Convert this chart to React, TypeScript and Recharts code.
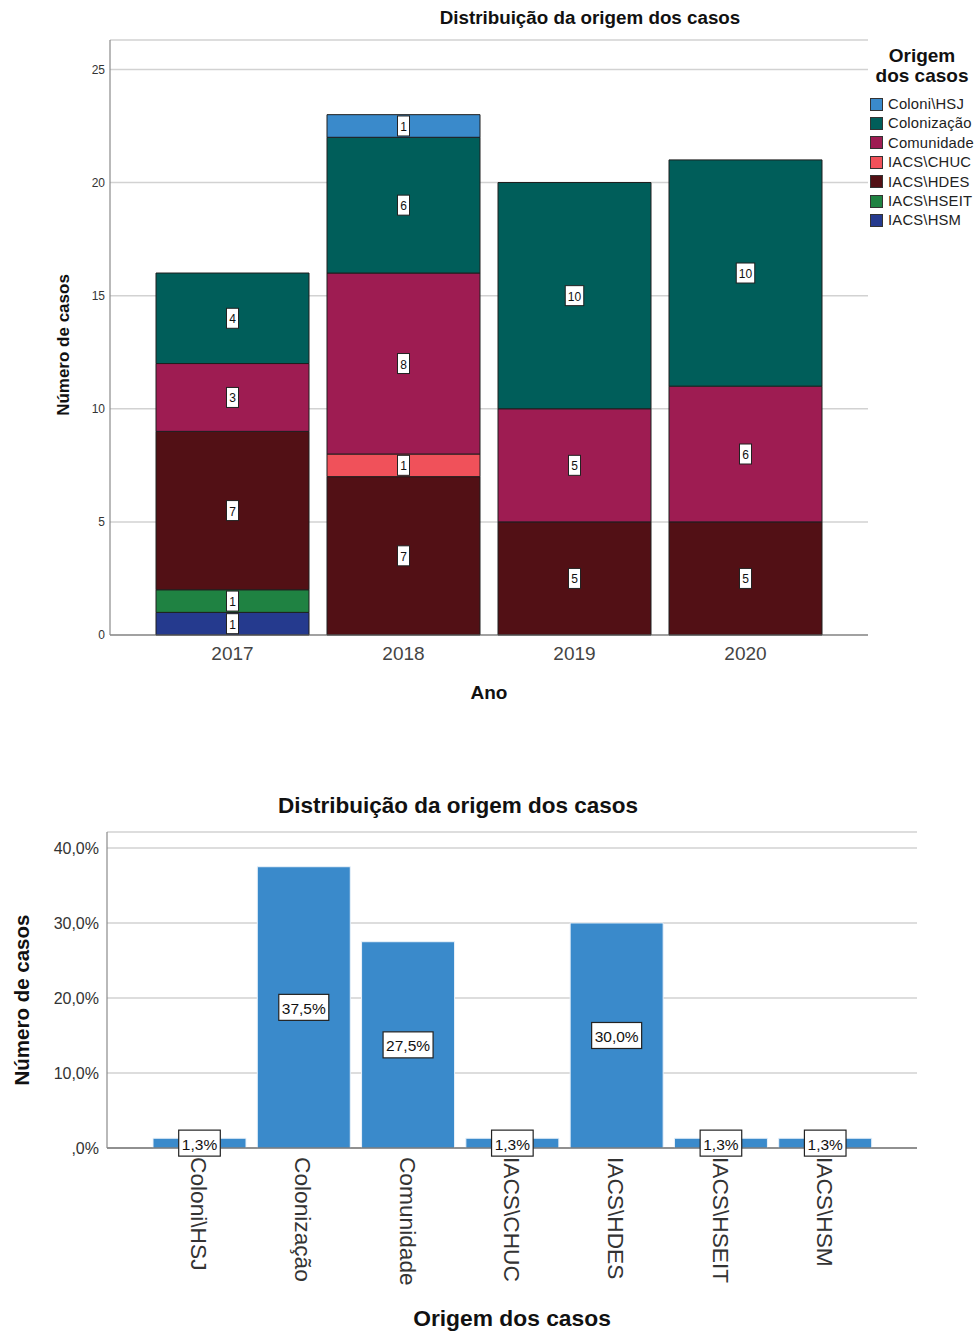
import { Bar, BarChart, CartesianGrid, LabelList, XAxis, YAxis } from 'recharts';

// Cases per year, split by origin
const years = ['2017', '2018', '2019', '2020'];
const coloniHsj = [0, 1, 0, 0];
const colonizacao = [4, 6, 10, 10];
const comunidade = [3, 8, 5, 6];
const iacsChuc = [0, 1, 0, 0];
const iacsHdes = [7, 7, 5, 5];
const iacsHseit = [1, 0, 0, 0];
const iacsHsm = [1, 0, 0, 0];

// Share of all cases per origin (%)
const origins = [
    'Coloni\\HSJ',
    'Colonização',
    'Comunidade',
    'IACS\\CHUC',
    'IACS\\HDES',
    'IACS\\HSEIT',
    'IACS\\HSM',
];
const originShare = [1.3, 37.5, 27.5, 1.3, 30.0, 1.3, 1.3];

const countTicks = [0, 5, 10, 15, 20, 25];
const shareTicks = [0, 10, 20, 30, 40];

const FONT = '"Liberation Sans", Arial, sans-serif';

// bottom-to-top stacking order
const stackSeries = [
    { key: 'hsm', name: 'IACS\\HSM', color: '#253a8e', values: iacsHsm },
    { key: 'hseit', name: 'IACS\\HSEIT', color: '#1f8242', values: iacsHseit },
    { key: 'hdes', name: 'IACS\\HDES', color: '#521015', values: iacsHdes },
    { key: 'chuc', name: 'IACS\\CHUC', color: '#f0515a', values: iacsChuc },
    { key: 'comunidade', name: 'Comunidade', color: '#9e1c52', values: comunidade },
    { key: 'colonizacao', name: 'Colonização', color: '#005e5a', values: colonizacao },
    { key: 'coloniHsj', name: 'Coloni\\HSJ', color: '#3a8acb', values: coloniHsj },
];

const yearRows = years.map((year, i) => {
    const row: Record<string, string | number> = { year };
    stackSeries.forEach((s) => {
        row[s.key] = s.values[i];
    });
    return row;
});

const originRows = origins.map((origin, i) => ({ origin, share: originShare[i] }));

const formatShare = (v: number): string =>
    v === 0 ? ',0%' : `${v.toFixed(1).replace('.', ',')}%`;

const CountLabel = (props: any) => {
    const { x, y, width, height, value } = props;
    if (!value) return null;
    const text = String(value);
    const w = text.length * 6.5 + 5.5;
    const h = 20;
    const cx = x + width / 2;
    const cy = y + height / 2;
    return (
        <g>
            <rect x={cx - w / 2} y={cy - h / 2} width={w} height={h} fill="#fff" stroke="#222" strokeWidth={1} />
            <text x={cx} y={cy + 1} textAnchor="middle" dominantBaseline="central" fontSize={12} fill="#111" fontFamily={FONT}>
                {text}
            </text>
        </g>
    );
};

const ShareLabel = (props: any) => {
    const { x, y, width, height, value } = props;
    const text = formatShare(Number(value));
    const w = text.length * 8.4 + 8;
    const h = 26;
    const cx = x + width / 2;
    const cy = y + height / 2;
    return (
        <g>
            <rect x={cx - w / 2} y={cy - h / 2} width={w} height={h} fill="#fff" stroke="#222" strokeWidth={1.2} />
            <text x={cx} y={cy + 1} textAnchor="middle" dominantBaseline="central" fontSize={15.5} fill="#111" fontFamily={FONT}>
                {text}
            </text>
        </g>
    );
};

// category names read top-to-bottom under each bar
const RotatedTick = (props: any) => {
    const { x, y, payload } = props;
    const ty = y + 1;
    return (
        <text
            x={x}
            y={ty}
            transform={`rotate(90 ${x} ${ty})`}
            textAnchor="start"
            dominantBaseline="central"
            fontSize={22.7}
            fill="#333"
            fontFamily={FONT}
        >
            {payload.value}
        </text>
    );
};

const Caption = ({ x, y, size, children }: any) => (
    <div
        style={{
            position: 'absolute',
            left: x,
            top: y,
            transform: 'translate(-50%, -50%)',
            fontSize: size,
            fontWeight: 'bold',
            whiteSpace: 'nowrap',
            color: '#111',
            lineHeight: 1,
        }}
    >
        {children}
    </div>
);

export default function App() {
    const legendItems = [...stackSeries].reverse();
    return (
        <div
            style={{
                position: 'absolute',
                left: 0,
                top: 0,
                width: 980,
                height: 1333,
                background: '#fff',
                fontFamily: FONT,
                overflow: 'hidden',
            }}
        >
            {/* stacked counts per year */}
            <div style={{ position: 'absolute', left: 1, top: 0 }}>
                <BarChart width={980} height={720} data={yearRows} margin={{ top: 40, right: 113, left: 59, bottom: 55 }}>
                    <CartesianGrid vertical={false} stroke="#d2d2d2" strokeWidth={1.5} />
                    <XAxis
                        dataKey="year"
                        height={30}
                        padding={{ left: 37, right: 37 }}
                        tickLine={false}
                        tickSize={10}
                        tick={{ fontSize: 19, fill: '#444', fontFamily: FONT }}
                        axisLine={{ stroke: '#666', strokeWidth: 1.2 }}
                    />
                    <YAxis
                        width={50}
                        domain={[0, 26.3]}
                        ticks={countTicks}
                        tickLine={false}
                        tickSize={3}
                        tick={{ fontSize: 12, fill: '#333', fontFamily: FONT }}
                        axisLine={{ stroke: '#8a8a8a', strokeWidth: 1.2 }}
                    />
                    {stackSeries.map((s) => (
                        <Bar
                            key={s.key}
                            dataKey={s.key}
                            name={s.name}
                            stackId="origem"
                            fill={s.color}
                            stroke="#1e1e1e"
                            strokeWidth={1}
                            barSize={153}
                            isAnimationActive={false}
                        >
                            <LabelList dataKey={s.key} content={<CountLabel />} />
                        </Bar>
                    ))}
                </BarChart>
            </div>
            <Caption x={590} y={18} size={18.8}>Distribuição da origem dos casos</Caption>
            <Caption x={63} y={345} size={17}>
                <span style={{ display: 'inline-block', transform: 'rotate(-90deg)' }}>Número de casos</span>
            </Caption>
            <Caption x={489} y={692} size={19}>Ano</Caption>

            <div style={{ position: 'absolute', left: 922, top: 46, transform: 'translateX(-50%)', textAlign: 'center', fontWeight: 'bold', fontSize: 19, lineHeight: '20px', color: '#111', whiteSpace: 'nowrap' }}>
                Origem
                <br />
                dos casos
            </div>
            {legendItems.map((s, i) => (
                <div key={s.key} style={{ position: 'absolute', left: 870, top: 104 + i * 19.4 - 8, height: 16, display: 'flex', alignItems: 'center' }}>
                    <span style={{ width: 13, height: 13, background: s.color, border: '1px solid #333', boxSizing: 'border-box', display: 'inline-block' }} />
                    <span style={{ marginLeft: 5, fontSize: 14.8, color: '#222', letterSpacing: 0.2, whiteSpace: 'nowrap' }}>{s.name}</span>
                </div>
            ))}

            {/* share of cases per origin */}
            <div style={{ position: 'absolute', left: 0, top: 780 }}>
                <BarChart width={980} height={553} data={originRows} margin={{ top: 52, right: 63, left: 47, bottom: 35 }}>
                    <CartesianGrid vertical={false} stroke="#d2d2d2" strokeWidth={1.5} />
                    <XAxis
                        dataKey="origin"
                        height={150}
                        interval={0}
                        padding={{ left: 40, right: 40 }}
                        tickLine={false}
                        tick={<RotatedTick />}
                        axisLine={{ stroke: '#444', strokeWidth: 1.2 }}
                    />
                    <YAxis
                        width={60}
                        domain={[0, 42.13]}
                        ticks={shareTicks}
                        tickFormatter={formatShare}
                        tickLine={false}
                        tickSize={6}
                        tick={{ fontSize: 16, fill: '#333', fontFamily: FONT }}
                        axisLine={{ stroke: '#8a8a8a', strokeWidth: 1.2 }}
                    />
                    <Bar dataKey="share" fill="#3a8acb" stroke="#eaf2fa" strokeWidth={1} barSize={93} isAnimationActive={false}>
                        <LabelList dataKey="share" content={<ShareLabel />} />
                    </Bar>
                </BarChart>
            </div>
            <Caption x={458} y={806} size={22.5}>Distribuição da origem dos casos</Caption>
            <Caption x={22} y={1000} size={20.5}>
                <span style={{ display: 'inline-block', transform: 'rotate(-90deg)' }}>Número de casos</span>
            </Caption>
            <Caption x={512} y={1318} size={22.8}>Origem dos casos</Caption>
        </div>
    );
}
